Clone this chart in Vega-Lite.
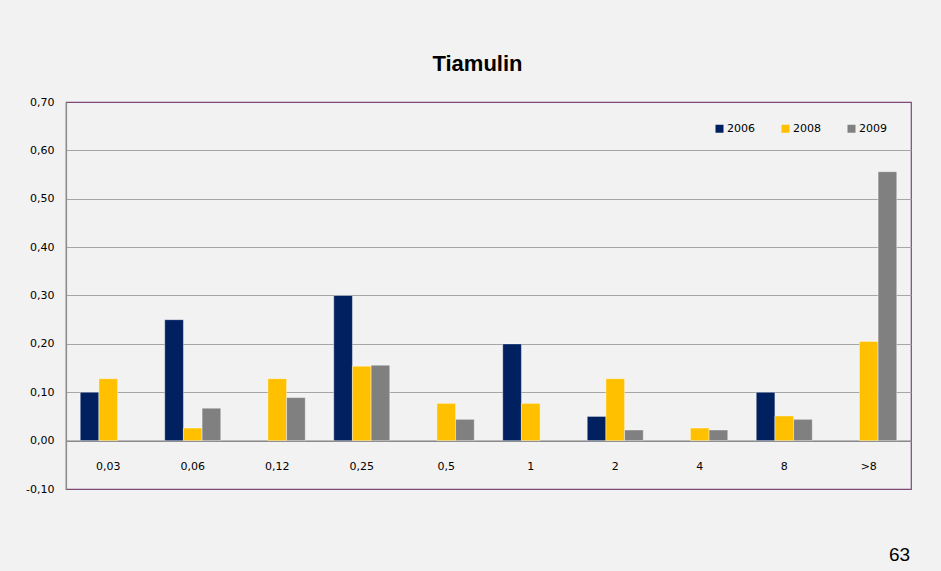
{
  "$schema": "https://vega.github.io/schema/vega-lite/v6.json",
  "autosize": "none",
  "width": 845,
  "height": 387,
  "padding": {"left": 66, "top": 102, "right": 30, "bottom": 82},
  "background": "#f2f2f2",
  "title": {
    "text": "Tiamulin",
    "font": "Liberation Sans, Arial, sans-serif",
    "fontSize": 22,
    "fontWeight": "bold",
    "color": "#000000",
    "anchor": "middle",
    "dx": -11,
    "offset": 20
  },
  "config": {
    "view": {"stroke": "#7d4a7a", "strokeWidth": 1.2},
    "font": "DejaVu Sans"
  },
  "data": {
    "values": [
      {"mic": "0,03", "year": "2006", "value": 0.10},
      {"mic": "0,03", "year": "2008", "value": 0.128},
      {"mic": "0,06", "year": "2006", "value": 0.25},
      {"mic": "0,06", "year": "2008", "value": 0.026},
      {"mic": "0,06", "year": "2009", "value": 0.067},
      {"mic": "0,12", "year": "2008", "value": 0.128},
      {"mic": "0,12", "year": "2009", "value": 0.089},
      {"mic": "0,25", "year": "2006", "value": 0.30},
      {"mic": "0,25", "year": "2008", "value": 0.154},
      {"mic": "0,25", "year": "2009", "value": 0.156},
      {"mic": "0,5", "year": "2008", "value": 0.077},
      {"mic": "0,5", "year": "2009", "value": 0.044},
      {"mic": "1", "year": "2006", "value": 0.20},
      {"mic": "1", "year": "2008", "value": 0.077},
      {"mic": "2", "year": "2006", "value": 0.05},
      {"mic": "2", "year": "2008", "value": 0.128},
      {"mic": "2", "year": "2009", "value": 0.022},
      {"mic": "4", "year": "2008", "value": 0.026},
      {"mic": "4", "year": "2009", "value": 0.022},
      {"mic": "8", "year": "2006", "value": 0.10},
      {"mic": "8", "year": "2008", "value": 0.051},
      {"mic": "8", "year": "2009", "value": 0.044},
      {"mic": ">8", "year": "2008", "value": 0.205},
      {"mic": ">8", "year": "2009", "value": 0.556}
    ]
  },
  "mark": {"type": "bar", "stroke": "#ffffff", "strokeOpacity": 0.5, "strokeWidth": 0.8},
  "encoding": {
    "x": {
      "field": "mic",
      "type": "nominal",
      "sort": ["0,03", "0,06", "0,12", "0,25", "0,5", "1", "2", "4", "8", ">8"],
      "scale": {"paddingInner": 0.337, "paddingOuter": 0.1685},
      "axis": {
        "orient": "bottom",
        "offset": -48.4,
        "labelAngle": 0,
        "ticks": false,
        "tickSize": 0,
        "labelPadding": 20,
        "labelFont": "DejaVu Sans",
        "labelFontSize": 11,
        "labelColor": "#000000",
        "domainColor": "#808080",
        "domainWidth": 1.2,
        "title": "63",
        "titleFont": "Liberation Sans, Arial, sans-serif",
        "titleFontSize": 19,
        "titleFontWeight": "normal",
        "titleColor": "#000000",
        "titleX": 833,
        "titleY": 120,
        "titleAlign": "center",
        "titleBaseline": "alphabetic"
      }
    },
    "xOffset": {"field": "year", "type": "nominal", "sort": ["2006", "2008", "2009"]},
    "y": {
      "field": "value",
      "type": "quantitative",
      "scale": {"domain": [-0.1, 0.7], "nice": false, "zero": false},
      "axis": {
        "title": null,
        "values": [-0.1, 0, 0.1, 0.2, 0.3, 0.4, 0.5, 0.6, 0.7],
        "labelExpr": "(datum.value < 0 ? '-' : '') + replace(format(abs(datum.value), '.2f'), '.', ',')",
        "labelFont": "DejaVu Sans",
        "labelFontSize": 11,
        "labelColor": "#000000",
        "ticks": false,
        "tickSize": 0,
        "labelPadding": 12,
        "domainColor": "#8c8c8c",
        "domainWidth": 1.2,
        "grid": true,
        "gridColor": "#a6a6a6",
        "gridWidth": 1.2,
        "gridOpacity": {"condition": {"test": "datum.value < -0.05 || datum.value > 0.65", "value": 0}, "value": 1}
      }
    },
    "color": {
      "field": "year",
      "type": "nominal",
      "scale": {"domain": ["2006", "2008", "2009"], "range": ["#002060", "#ffc000", "#808080"]},
      "legend": {
        "title": null,
        "orient": "none",
        "direction": "horizontal",
        "legendX": 648,
        "legendY": 21,
        "symbolType": "square",
        "symbolSize": 64,
        "symbolStrokeWidth": 0,
        "labelFont": "DejaVu Sans",
        "labelFontSize": 11,
        "labelColor": "#000000",
        "labelOffset": 2,
        "columnPadding": 25,
        "padding": 0
      }
    }
  }
}
